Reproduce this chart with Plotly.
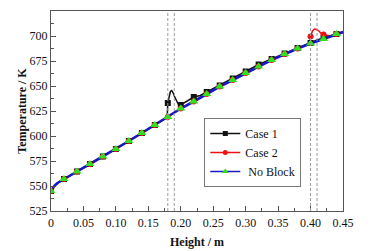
import plotly.graph_objects as go

# ---------------- data ----------------
marker_x = [0.00, 0.02, 0.04, 0.06, 0.08, 0.10, 0.12, 0.14, 0.16, 0.18, 0.20, 0.22,
            0.24, 0.26, 0.28, 0.30, 0.32, 0.34, 0.36, 0.38, 0.40, 0.42, 0.44]

noblock_y = [545, 557, 564.5, 572, 579.5, 587, 595, 603, 611, 619, 627.5, 634.5,
             642, 649.5, 656, 663, 669.5, 676, 682, 687.5, 692.5, 697, 702]
case1_y = [545, 557, 564.5, 572, 579.5, 587, 595, 603, 611, 633, 631, 639,
           644, 650.5, 657.5, 664.5, 671.5, 677, 682.5, 688, 693, 698, 702]
case2_y = [545, 557, 564.5, 572, 579.5, 587, 595, 603, 611, 619, 627.5, 634.5,
           642, 649.5, 656, 663, 669.5, 676, 682, 687.5, 699.5, 701.5, 702]

# line profiles (denser sampling near the start and the blocks)
noblock_line_x = [0.0, 0.005, 0.01, 0.02, 0.04, 0.06, 0.08, 0.10, 0.12, 0.14, 0.16, 0.18,
                  0.20, 0.22, 0.24, 0.26, 0.28, 0.30, 0.32, 0.34, 0.36, 0.38, 0.40, 0.42,
                  0.44, 0.45]
noblock_line_y = [545, 550, 553, 557, 564.5, 572, 579.5, 587, 595, 603, 611, 619,
                  627.5, 634.5, 642, 649.5, 656, 663, 669.5, 676, 682, 687.5, 692.5, 697,
                  702, 704]

case1_line_x = [0.0, 0.005, 0.01, 0.02, 0.04, 0.06, 0.08, 0.10, 0.12, 0.14, 0.16, 0.179,
                0.18, 0.182, 0.184, 0.186, 0.188, 0.190, 0.193, 0.196, 0.20, 0.21, 0.22,
                0.23, 0.24, 0.26, 0.28, 0.30, 0.32, 0.34, 0.36, 0.38, 0.40, 0.41, 0.42,
                0.43, 0.44, 0.45]
case1_line_y = [545, 550, 553, 557, 564.5, 572, 579.5, 587, 595, 603, 611, 618.5,
                633, 640, 644.5, 645.5, 643.5, 640, 635, 632, 631, 635, 639,
                640.5, 644, 650.5, 657.5, 664.5, 671.5, 677, 682.5, 688, 693, 696, 698,
                699.5, 702, 704]

case2_line_x = [0.0, 0.005, 0.01, 0.02, 0.04, 0.06, 0.08, 0.10, 0.12, 0.14, 0.16, 0.18,
                0.20, 0.22, 0.24, 0.26, 0.28, 0.30, 0.32, 0.34, 0.36, 0.38, 0.399,
                0.40, 0.403, 0.406, 0.409, 0.412, 0.415, 0.418, 0.42, 0.425, 0.43,
                0.435, 0.44, 0.45]
case2_line_y = [545, 550, 553, 557, 564.5, 572, 579.5, 587, 595, 603, 611, 619,
                627.5, 634.5, 642, 649.5, 656, 663, 669.5, 676, 682, 687.5, 692,
                699.5, 705, 707, 706.5, 705.5, 703.5, 701.5, 701.5, 700.5, 700,
                701, 702, 703]

block_edges = [0.18, 0.19, 0.40, 0.41]

x_tickvals = [0, 0.05, 0.10, 0.15, 0.20, 0.25, 0.30, 0.35, 0.40, 0.45]
x_ticktext = ["0", "0.05", "0.10", "0.15", "0.20", "0.25", "0.30", "0.35", "0.40", "0.45"]
y_tickvals = [525, 550, 575, 600, 625, 650, 675, 700, 725]

# ---------------- styles ----------------
FONT = "Liberation Serif, Times New Roman, serif"
C1, C2, C3, GREEN = "#111111", "#ee1111", "#1818c8", "#33dd22"
TXT = "#111111"

fig = go.Figure()

# lines
fig.add_trace(go.Scatter(x=case1_line_x, y=case1_line_y, mode="lines",
                         line=dict(color=C1, width=1.5), showlegend=False, hoverinfo="skip"))
fig.add_trace(go.Scatter(x=case2_line_x, y=case2_line_y, mode="lines",
                         line=dict(color=C2, width=1.5), showlegend=False, hoverinfo="skip"))
fig.add_trace(go.Scatter(x=noblock_line_x, y=noblock_line_y, mode="lines",
                         line=dict(color=C3, width=2.6), showlegend=False, hoverinfo="skip"))
# markers
fig.add_trace(go.Scatter(x=marker_x, y=case1_y, mode="markers",
                         marker=dict(symbol="square", size=6, color=C1), showlegend=False))
fig.add_trace(go.Scatter(x=marker_x, y=case2_y, mode="markers",
                         marker=dict(symbol="circle", size=6, color=C2), showlegend=False))
fig.add_trace(go.Scatter(x=marker_x, y=noblock_y, mode="markers",
                         marker=dict(symbol="triangle-up", size=8, color=GREEN), showlegend=False))
# legend entries
fig.add_trace(go.Scatter(x=[None], y=[None], mode="lines+markers", name="Case 1",
                         line=dict(color=C1, width=1.5),
                         marker=dict(symbol="square", size=5, color=C1)))
fig.add_trace(go.Scatter(x=[None], y=[None], mode="lines+markers", name="Case 2",
                         line=dict(color=C2, width=1.5),
                         marker=dict(symbol="circle", size=5, color=C2)))
fig.add_trace(go.Scatter(x=[None], y=[None], mode="lines+markers", name=" No Block",
                         line=dict(color=C3, width=1.5),
                         marker=dict(symbol="triangle-up", size=6, color=GREEN)))

for xv in block_edges:
    fig.add_vline(x=xv, line=dict(color="#999999", width=1, dash="3px,2px"))

axis_common = dict(
    showgrid=False, zeroline=False, showline=True, linecolor="#555555", linewidth=1.2,
    mirror=True, ticks="inside", ticklen=5, tickwidth=1, tickcolor="#555555",
    tickfont=dict(family=FONT, size=12, color=TXT),
)

fig.update_xaxes(range=[0, 0.45], tickvals=x_tickvals, ticktext=x_ticktext,
                 minor=dict(ticks="inside", ticklen=3, tickcolor="#555555", dtick=0.025, tick0=0),
                 title=dict(text="<b>Height / m</b>", font=dict(family=FONT, size=12, color=TXT),
                            standoff=9),
                 **axis_common)
fig.update_yaxes(range=[525, 725], tickvals=y_tickvals,
                 minor=dict(ticks="inside", ticklen=3, tickcolor="#555555", dtick=12.5, tick0=525),
                 title=dict(text="<b>Temperature / K</b>", font=dict(family=FONT, size=12, color=TXT),
                            standoff=0),
                 **axis_common)

# page body has an 8px default margin: figure is sized/offset to compensate
fig.update_layout(
    width=369, height=243,
    margin=dict(l=43, r=34, t=3, b=40, autoexpand=False),
    paper_bgcolor="white", plot_bgcolor="white",
    font=dict(family=FONT, size=12, color=TXT),
    legend=dict(x=0.525, y=0.465, xanchor="left", yanchor="top",
                bgcolor="white", bordercolor="#777777", borderwidth=1,
                font=dict(family=FONT, size=12, color=TXT),
                tracegroupgap=0),
    showlegend=True,
)

fig.write_html("out.html")
